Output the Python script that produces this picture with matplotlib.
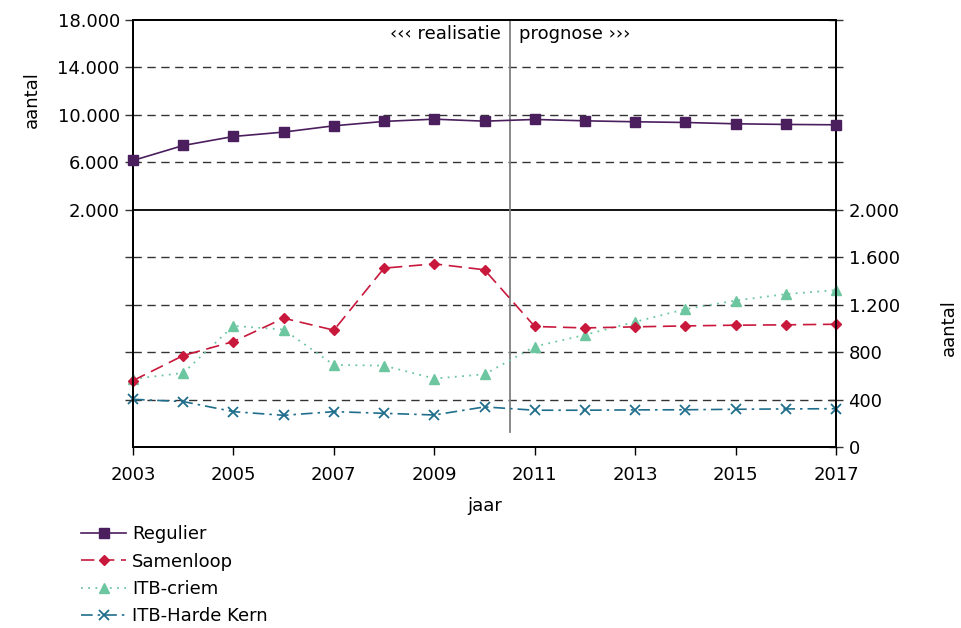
import matplotlib
matplotlib.use("Agg")
import matplotlib.pyplot as plt
from matplotlib.ticker import FuncFormatter

years = list(range(2003, 2018))
regulier = [6156, 7420, 8180, 8550, 9080, 9450, 9640, 9470, 9615, 9500, 9420, 9360, 9250, 9195, 9165]
samenloop = [560, 771, 889, 1086, 985, 1508, 1544, 1494, 1016, 1004, 1013, 1021, 1027, 1030, 1035]
itb_criem = [574, 624, 1021, 990, 692, 686, 577, 613, 847, 945, 1055, 1162, 1235, 1289, 1322]
itb_harde = [402, 383, 298, 267, 298, 284, 270, 338, 310, 310, 313, 314, 318, 321, 323]

left_ticks = [2000, 6000, 10000, 14000, 18000]
right_ticks = [0, 400, 800, 1200, 1600, 2000]
xticks = [2003, 2005, 2007, 2009, 2011, 2013, 2015, 2017]
split_year = 2010.5

plt.rcParams['font.family'] = ['DejaVu Sans']
FS = 13

def nl(v, pos=None):
    return f"{int(v):,}".replace(",", ".")

fig = plt.figure(figsize=(9.61, 6.28), dpi=100)
ax = fig.add_axes([133/961, 1-447/628, 703/961, 427/628])
ax2 = ax.twinx()

ax.set_xlim(2003, 2017)
ax.set_ylim(-18000, 18000)
ax2.set_ylim(0, 3600)

# grid
for lvl in [400, 800, 1200, 1600, 2400, 2800, 3200]:
    ax2.axhline(lvl, color='#333333', lw=1.0, ls=(0, (6, 4)), zorder=0)
ax2.axhline(2000, color='black', lw=1.3, zorder=0)
ax2.axvline(split_year, ymin=125/3600, ymax=1, color='#808080', lw=1.3, zorder=1)

c_reg = '#4B1E5E'
c_sam = '#C8193C'
c_itb = '#6CC6A0'
c_hk = '#1F6E8C'

l1, = ax.plot(years, regulier, color=c_reg, lw=1.2, marker='s', ms=6.5, label='Regulier', clip_on=False, zorder=5)
l2, = ax2.plot(years, samenloop, color=c_sam, lw=1.2, ls=(0, (8, 4)), marker='D', ms=5.5, label='Samenloop', clip_on=False, zorder=5)
l3, = ax2.plot(years, itb_criem, color=c_itb, lw=1.3, ls=(0, (1, 3)), marker='^', ms=7, label='ITB-criem', clip_on=False, zorder=4)
l4, = ax2.plot(years, itb_harde, color=c_hk, lw=1.2, ls=(0, (7, 3, 1.5, 3)), marker='x', ms=6.5, mew=1.3, label='ITB-Harde Kern', clip_on=False, zorder=4)

ax.set_zorder(ax2.get_zorder() + 1)
ax.patch.set_visible(False)

# left axis ticks
ax.set_yticks(list(range(-14000, 18001, 4000)))
ax.yaxis.set_major_formatter(FuncFormatter(lambda v, p: nl(v) if v in left_ticks else ""))
ax.tick_params(axis='y', direction='out', length=6, width=1, labelsize=FS, colors='#333333', labelcolor='black')
# right axis ticks
ax2.set_yticks(list(range(0, 3601, 400)))
ax2.yaxis.set_major_formatter(FuncFormatter(lambda v, p: nl(v) if v in right_ticks else ""))
ax2.tick_params(axis='y', direction='inout', length=10, width=1, labelsize=FS, pad=4, colors='#333333', labelcolor='black')

ax.set_xticks(xticks)
ax.set_xticklabels([str(x) for x in xticks])
ax.tick_params(axis='x', direction='out', length=6, width=1, labelsize=FS, pad=8)

for a in (ax, ax2):
    for s in a.spines.values():
        s.set_color('black')
        s.set_linewidth(1.3)

ax.set_xlabel('jaar', fontsize=FS, labelpad=9)
fig.text(32/961, 1-100/628, 'aantal', rotation=90, fontsize=FS, ha='center', va='center')
fig.text(949/961, 1-328/628, 'aantal', rotation=90, fontsize=FS, ha='center', va='center')

ax2.text(split_year - 0.18, 3480, '‹‹‹ realisatie', ha='right', va='center', fontsize=FS)
ax2.text(split_year + 0.18, 3480, 'prognose ›››', ha='left', va='center', fontsize=FS)

leg = fig.legend(handles=[l1, l2, l3, l4], loc='upper left', bbox_to_anchor=(74/961, 1-518/628),
                 frameon=False, fontsize=FS, handlelength=2.5, labelspacing=0.52, handletextpad=0.3,
                 borderaxespad=0)

fig.savefig('out.png', dpi=100)
